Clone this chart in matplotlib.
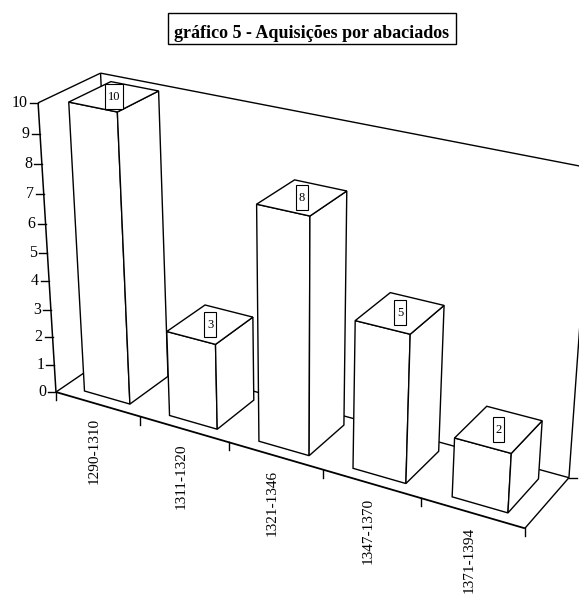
import numpy as np
import matplotlib
matplotlib.use('Agg')
import matplotlib.pyplot as plt
from matplotlib.patches import Polygon, Rectangle

plt.rcParams['font.family'] = ['Liberation Serif', 'DejaVu Serif']

# --- data ---
periods = ['1290-1310', '1311-1320', '1321-1346', '1347-1370', '1371-1394']
acquisitions = [10, 3, 8, 5, 2]
value_ticks = list(range(0, 11))
title = 'gráfico 5 - Aquisições por abaciados'

# --- 3D look (old spreadsheet perspective chart) ---
# camera matrix: world (category, depth, value) -> pixel
CAM = np.array([[81.0146, 62.3144, -2.0517, 55.9745],
                [14.4061, -24.6403, -29.6292, 392.0344],
                [-0.024322, 0.041511, -0.0069186, 1.0]])
GAP = 0.23          # gap on each side of a bar, in category units
DEPTH = (0.16, 0.84)
ZMAX = 10


def proj(x, y, z):
    h = CAM @ np.array([x, y, z, 1.0])
    return h[0] / h[2], h[1] / h[2]


fig = plt.figure(figsize=(5.79, 5.94), dpi=100)
ax = fig.add_axes([0, 0, 1, 1])
ax.set_xlim(0, 579)
ax.set_ylim(594, 0)
ax.axis('off')

n = len(periods)
lw = 1.0


def seg(p, q, **kw):
    a, b = proj(*p), proj(*q)
    ax.plot([a[0], b[0]], [a[1], b[1]], color='black', lw=kw.get('lw', lw),
            solid_capstyle='butt', zorder=kw.get('zorder', 1))


# walls and floor outline
seg((0, 1, 0), (0, 1, ZMAX))
seg((0, 1, ZMAX), (n, 1, ZMAX))
seg((n, 1, 0), (n, 1, ZMAX))
seg((0, 0, ZMAX), (0, 1, ZMAX))
seg((0, 1, 0), (n, 1, 0))
seg((0, 0, 0), (0, 1, 0))
seg((n, 0, 0), (n, 1, 0))
seg((0, 0, 0), (n, 0, 0), lw=1.3)
seg((0, 0, 0), (0, 0, ZMAX), lw=1.1)

# value axis ticks and labels
for v in value_ticks:
    x, y = proj(0, 0, v)
    ax.plot([x - 8, x], [y, y], color='black', lw=lw)
    ax.text(x - 10, y, str(v), ha='right', va='center', fontsize=11.5)

# category ticks and labels
for i in range(n + 1):
    x, y = proj(i, 0, 0)
    ax.plot([x, x], [y, y + 8], color='black', lw=lw)
for i, lab in enumerate(periods):
    x, y = proj(i + 0.5, 0, 0)
    ax.text(x - 3, y + 14, lab, rotation=90, ha='center', va='top', fontsize=11)

# depth axis tick
x, y = proj(n, 1, 0)
ax.plot([x, x + 8], [y, y], color='black', lw=lw)

# bars, drawn left to right
y0, y1 = DEPTH
for i, v in enumerate(acquisitions):
    xl, xr = i + GAP, i + 1 - GAP
    front = [proj(xl, y0, 0), proj(xr, y0, 0), proj(xr, y0, v), proj(xl, y0, v)]
    side = [proj(xr, y0, 0), proj(xr, y1, 0), proj(xr, y1, v), proj(xr, y0, v)]
    top = [proj(xl, y0, v), proj(xr, y0, v), proj(xr, y1, v), proj(xl, y1, v)]
    for face in (front, side, top):
        ax.add_patch(Polygon(face, closed=True, facecolor='white',
                             edgecolor='black', lw=lw, zorder=3 + i))
    # value label in a small box on the top face
    cx, cy = proj(i + 0.5, 0.5, v)
    s = str(v)
    w, h = 6.5 * len(s) + 5, 25
    ax.add_patch(Rectangle((cx - w / 2, cy - h / 2), w, h, facecolor='white',
                           edgecolor='black', lw=0.8, zorder=3 + i))
    ax.text(cx, cy + 0.5, s, ha='center', va='center', fontsize=9, zorder=4 + i)

# title in a box
ax.add_patch(Rectangle((168, 13), 288, 31, facecolor='white', edgecolor='black', lw=1))
ax.text(312, 38, title, ha='center', va='baseline', fontsize=13.0, fontweight='bold')

fig.savefig('out.png', dpi=100)
